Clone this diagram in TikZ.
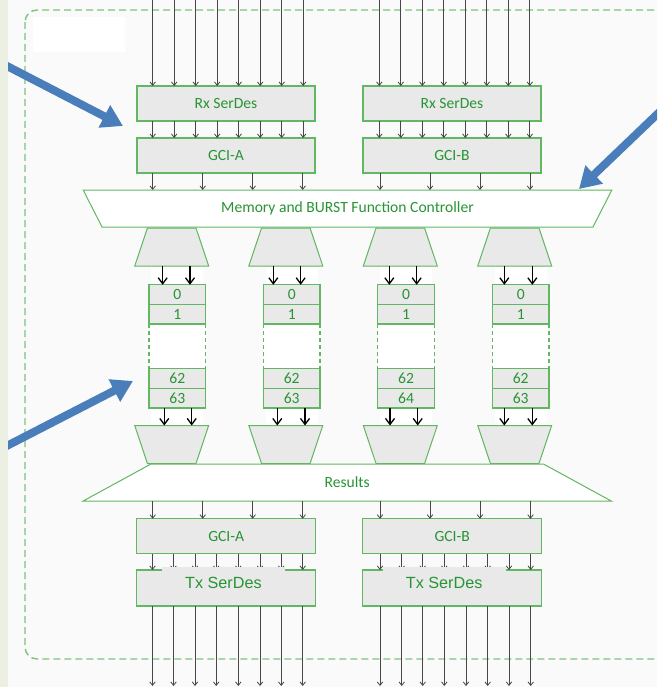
\documentclass[tikz,border=0pt]{standalone}
\usepackage{fontspec}
\setmainfont{Carlito}
\newfontfamily\arialf{Liberation Sans}
\usetikzlibrary{arrows.meta,shapes.geometric,calc}
\definecolor{bgcol}{HTML}{FAFAFA}
\definecolor{stripcol}{HTML}{ECF0E2}
\definecolor{gborder}{RGB}{98,183,98}
\definecolor{gtext}{RGB}{40,148,52}
\definecolor{boxgray}{HTML}{E9E9E9}
\definecolor{framecol}{RGB}{125,196,125}
\definecolor{bluearr}{HTML}{4A7EBB}
\tikzset{
  lbl/.style={font=\fontsize{15.6}{18}\selectfont, text=gtext},
  box/.style={draw=gborder, fill=boxgray, line width=1.2pt, minimum width=178pt,
    minimum height=35pt, inner sep=0pt, outer sep=0pt, lbl},
  cell/.style={draw=gborder, fill=boxgray, line width=1.2pt, minimum width=56.7pt,
    minimum height=19.7pt, inner sep=0pt, outer sep=0pt, lbl},
  mux/.style={trapezium, draw=gborder, fill=boxgray, line width=1pt,
    trapezium stretches=true, minimum width=74pt, minimum height=38pt,
    trapezium left angle=75.3, trapezium right angle=75.3, inner sep=2pt, outer sep=0pt},
  muxdown/.style={mux, shape border rotate=180},
  widebar/.style={trapezium, draw=gborder, fill=white, line width=1pt,
    trapezium stretches=true, minimum width=529pt, minimum height=37pt,
    trapezium left angle=60.4, trapezium right angle=60.4, inner sep=2pt, outer sep=0pt, lbl},
  tarr/.style={-{Straight Barb[length=3.5pt,width=5.5pt]}, line width=0.8pt, draw=black!72},
  marr/.style={-{Straight Barb[length=6pt,width=9pt]}, line width=1.3pt, draw=black},
  bluearrow/.style={-{Triangle[length=21pt,width=24pt]}, line width=8pt, draw=bluearr},
  frame/.style={draw=framecol, line width=1.4pt, dash pattern=on 7pt off 4pt, rounded corners=12pt},
}
\begin{document}
\begin{tikzpicture}[x=1pt,y=-1pt]
\useasboundingbox (0,0) rectangle (657,687);
\clip (0,0) rectangle (657,687);
\fill[bgcol] (0,0) rectangle (657,687);
\fill[white] (33,17) rectangle (125,52);
\draw[frame] (25,10) rectangle (700,659);

\coordinate (topedge) at (0,0);
\coordinate (botedge) at (0,686);

% upper boxes
\node[box] (rxA) at (226,103.5) {Rx SerDes};
\node[box] (gciA) at (226,155.5) {GCI-A};
\node[box] (rxB) at (452,103.5) {Rx SerDes};
\node[box] (gciB) at (452,155.5) {GCI-B};

\foreach \x in {152.7,174.2,195.7,217.2,238.7,260.2,281.7,303.2}{
  \draw[tarr] (\x,0 |- topedge) -- (\x,0 |- rxA.north);
  \draw[tarr] (\x,0 |- rxA.south) -- (\x,0 |- gciA.north);
}
\foreach \x in {379.3,400.8,422.3,443.8,465.3,486.8,508.3,529.8}{
  \draw[tarr] (\x,0 |- topedge) -- (\x,0 |- rxB.north);
  \draw[tarr] (\x,0 |- rxB.south) -- (\x,0 |- gciB.north);
}

\node[widebar, shape border rotate=180] (mem) at (347.5,208.5) {Memory and BURST Function Controller};
\foreach \x in {152.7,202.7,252.7,302.7}{
  \draw[tarr] (\x,0 |- gciA.south) -- (\x,0 |- mem.north);
}
\foreach \x in {380,430,480,530}{
  \draw[tarr] (\x,0 |- gciB.south) -- (\x,0 |- mem.north);
}

% memory columns
\foreach \i/\cx/\mx/\last/\ta/\tb/\ba/\bb in {
  1/177.3/171.7/63/162.7/190/164.3/191.7,
  2/291.7/285.8/63/273.3/300.7/277.3/305,
  3/406/400.3/64/389.3/416.7/390/417.7,
  4/520.7/514.7/63/504.3/532.3/504.3/532.3}{
  \node[mux] (mu\i) at (\mx,247) {};
  \node[muxdown] (md\i) at (\mx,444.5) {};
  \fill[white] (\cx-26,267) rectangle (\cx+26,285);
  \fill[white] (\cx-28.35,324) rectangle (\cx+28.35,368.3);
  \fill[white] (\cx-26,408.3) rectangle (\cx+26,425);
  \node[cell] (c\i a) at (\cx,294.65) {0};
  \node[cell] (c\i b) at (\cx,314.15) {1};
  \node[cell] (c\i c) at (\cx,378.45) {62};
  \node[cell] (c\i d) at (\cx,398.15) {\last};
  \draw[gborder, line width=1.2pt, dash pattern=on 4pt off 3pt] (c\i b.south west) -- (c\i c.north west);
  \draw[gborder, line width=1.2pt, dash pattern=on 4pt off 3pt] (c\i b.south east) -- (c\i c.north east);
  \draw[marr] (\ta,0 |- mu\i.south) -- (\ta,0 |- c\i a.north);
  \draw[marr] (\tb,0 |- mu\i.south) -- (\tb,0 |- c\i a.north);
  \draw[marr] (\ba,0 |- c\i d.south) -- (\ba,0 |- md\i.north);
  \draw[marr] (\bb,0 |- c\i d.south) -- (\bb,0 |- md\i.north);
}

\node[widebar] (res) at (347.2,482.5) {Results};

% lower boxes
\node[box, minimum width=179pt] (gciA2) at (226.2,536.3) {GCI-A};
\node[box, minimum width=179pt, minimum height=36pt] (txA) at (226.2,588) {};
\node[box, minimum width=179pt] (gciB2) at (452.2,536.3) {GCI-B};
\node[box, minimum width=179pt, minimum height=36pt] (txB) at (452.2,588) {};

\foreach \x in {152.7,202.7,252.7,302.7}{
  \draw[tarr] (\x,0 |- res.south) -- (\x,0 |- gciA2.north);
}
\foreach \x in {380,430,480,530.5}{
  \draw[tarr] (\x,0 |- res.south) -- (\x,0 |- gciB2.north);
}
\foreach \x in {152.5,173.5,195,216.2,238.3,260,281.2,302.7}{
  \draw[tarr] (\x,0 |- gciA2.south) -- (\x,0 |- txA.north);
  \draw[tarr] (\x,0 |- txA.south) -- (\x,0 |- botedge);
}
\foreach \x in {380,401.7,422.7,444.3,466,487.7,509,530.7}{
  \draw[tarr] (\x,0 |- gciB2.south) -- (\x,0 |- txB.north);
  \draw[tarr] (\x,0 |- txB.south) -- (\x,0 |- botedge);
}
\fill[boxgray] (161.7,566.8) rectangle (285,590);
\fill[boxgray] (382.7,566.8) rectangle (505.7,590);
\node[font=\arialf\fontsize{16.2}{19}\selectfont, text=gtext, inner sep=0pt] (txAl) at (223.4,582.5) {Tx SerDes};
\node[font=\arialf\fontsize{16.2}{19}\selectfont, text=gtext, inner sep=0pt] (txBl) at (444.2,582.5) {Tx SerDes};

% blue pointer arrows
\coordinate (b1s) at (0,62.4);
\coordinate (b1e) at (123,126);
\coordinate (b2s) at (672,100);
\coordinate (b2e) at (579,189);
\coordinate (b3s) at (0,449.4);
\coordinate (b3e) at (133,381);
\draw[bluearrow] (b1s) -- (b1e);
\draw[bluearrow] (b2s) -- (b2e);
\draw[bluearrow] (b3s) -- (b3e);

\fill[stripcol] (0,0) rectangle (7.5,687);
\end{tikzpicture}
\end{document}
